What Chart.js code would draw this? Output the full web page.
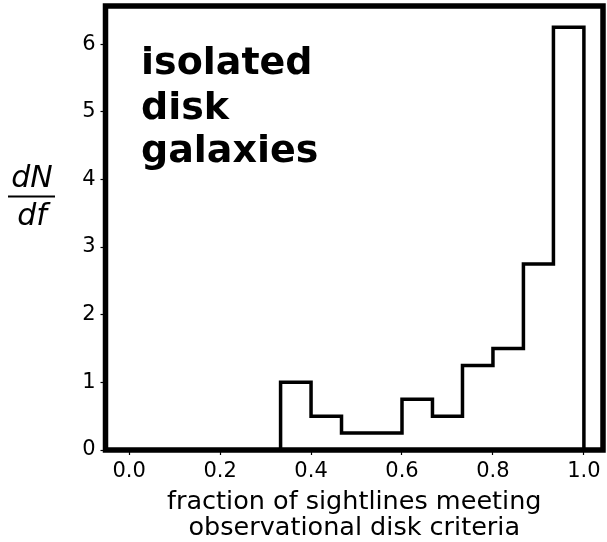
<!DOCTYPE html>
<html lang="en">
<head>
    <meta charset="UTF-8">
    <title>Isolated disk galaxies</title>
    <style>
        body { margin: 0; background: #fff; }
        #wrap { width: 607px; height: 542px; }
    </style>
</head>
<body>
    <div id="wrap"><canvas id="histChart" width="607" height="542"></canvas></div>

    <script src="https://cdn.jsdelivr.net/npm/chart.js"></script>
    <script>
        // bin edges (15 bins across 0..1, only the filled ones listed) and heights
        const binEdges = [0.333, 0.4, 0.467, 0.533, 0.6, 0.667, 0.733, 0.8, 0.867, 0.933, 1.0];
        const binHeights = [1.0, 0.5, 0.25, 0.25, 0.75, 0.5, 1.25, 1.5, 2.75, 6.25];
        const xTicks = [0.0, 0.2, 0.4, 0.6, 0.8, 1.0];
        const yTicks = [0, 1, 2, 3, 4, 5, 6];
        const xLabel = ['fraction of sightlines meeting', 'observational disk criteria'];
        const panelText = ['isolated', 'disk', 'galaxies'];

        // step outline: start on the axis, climb, walk the bins, drop back to zero
        const stepPoints = [{ x: binEdges[0], y: 0 }];
        binHeights.forEach((h, i) => stepPoints.push({ x: binEdges[i], y: h }));
        stepPoints.push({ x: binEdges[binEdges.length - 1], y: 0 });

        const FONT = "'DejaVu Sans', sans-serif";

        // thick box around the axes, panel label and the dN/df fraction
        const decorations = {
            id: 'decorations',
            afterDatasetsDraw(chart) {
                const { ctx, chartArea: a } = chart;
                ctx.save();
                ctx.strokeStyle = '#000';
                ctx.lineWidth = 5.5;
                ctx.strokeRect(a.left, a.top, a.right - a.left, a.bottom - a.top);

                ctx.fillStyle = '#000';
                ctx.font = 'bold 38px ' + FONT;
                ctx.textBaseline = 'alphabetic';
                ctx.textAlign = 'left';
                const baselines = [74, 119, 162];
                panelText.forEach((t, i) => ctx.fillText(t, 141, baselines[i]));

                ctx.font = 'italic 30px ' + FONT;
                ctx.textAlign = 'center';
                ctx.fillText('dN', 32, 187);
                ctx.fillText('df', 32, 225);
                ctx.lineWidth = 2;
                ctx.beginPath();
                ctx.moveTo(8, 196.5);
                ctx.lineTo(55, 196.5);
                ctx.stroke();
                ctx.restore();
            }
        };

        const ctx = document.getElementById('histChart').getContext('2d');
        new Chart(ctx, {
            type: 'line',
            data: {
                datasets: [{
                    data: stepPoints,
                    stepped: 'before',
                    borderColor: '#000',
                    borderWidth: 3.5,
                    pointRadius: 0,
                    fill: false,
                    clip: false
                }]
            },
            options: {
                responsive: false,
                animation: false,
                layout: { padding: { left: 0, right: 4, top: 6, bottom: 0 } },
                plugins: { legend: { display: false }, tooltip: { enabled: false } },
                scales: {
                    x: {
                        type: 'linear',
                        min: -0.052,
                        max: 1.042,
                        afterBuildTicks: s => { s.ticks = xTicks.map(v => ({ value: v })); },
                        afterFit: s => { s.height = 92; },
                        border: { display: false },
                        grid: { drawOnChartArea: false, drawTicks: true, tickLength: 5, color: '#000', tickWidth: 1.2 },
                        ticks: {
                            color: '#000',
                            font: { family: FONT, size: 21 },
                            padding: 4,
                            maxRotation: 0,
                            callback: v => v.toFixed(1)
                        },
                        title: {
                            display: true,
                            text: xLabel,
                            color: '#000',
                            font: { family: FONT, size: 25.5, lineHeight: 1.0 },
                            padding: { top: 0, bottom: 1 }
                        }
                    },
                    y: {
                        type: 'linear',
                        min: 0,
                        max: 6.5625,
                        afterBuildTicks: s => { s.ticks = yTicks.map(v => ({ value: v })); },
                        afterFit: s => {
                            s.width = 105.5;
                            s.paddingTop = 0;
                            s.paddingBottom = 0;
                        },
                        border: { display: false },
                        grid: { drawOnChartArea: false, drawTicks: true, tickLength: 5, color: '#000', tickWidth: 1.2 },
                        ticks: {
                            color: '#000',
                            font: { family: FONT, size: 21 },
                            padding: 5,
                            callback: v => String(v)
                        }
                    }
                }
            },
            plugins: [decorations]
        });
    </script>
</body>
</html>
